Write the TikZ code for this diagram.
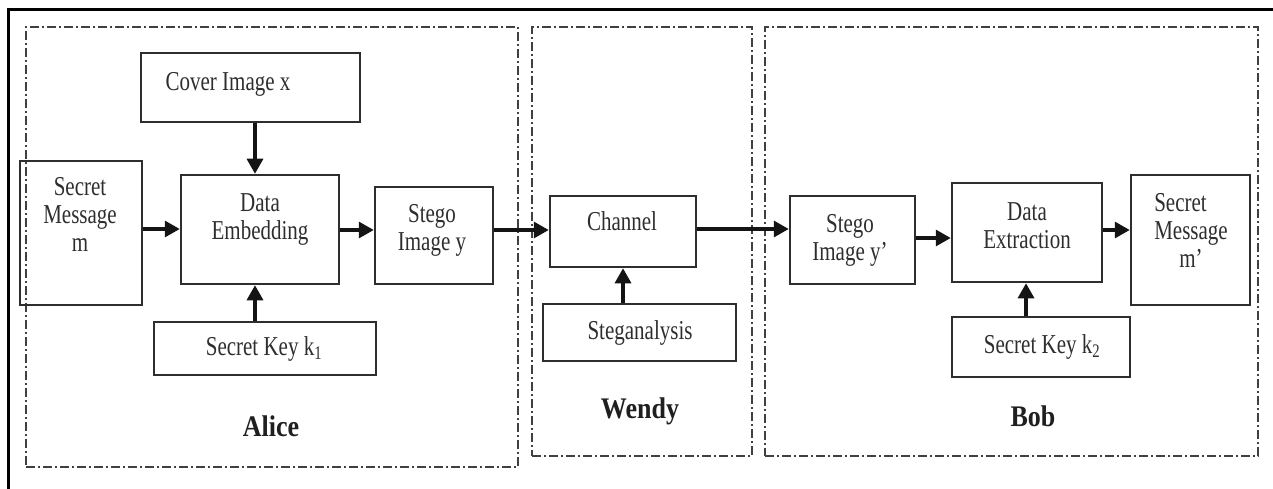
\documentclass[tikz,border=0pt]{standalone}
\usepackage{fontspec}
\usepackage{graphicx}
\setmainfont{Liberation Serif}
\usetikzlibrary{arrows.meta}
\newcommand\stx[2][c]{\scalebox{1}[1.3]{\begin{tabular}{@{}#1@{}}#2\end{tabular}}}
\newcommand\blab[1]{\scalebox{1}[1.15]{#1}}
\begin{document}
\begin{tikzpicture}[x=1pt,y=-1pt,
 box/.style={draw=black!82, line width=2.5pt, inner sep=0pt},
 txt/.style={font=\fontsize{21}{21.6}\selectfont, text=black!82, inner sep=0pt},
 lbl/.style={font=\fontsize{26}{28}\selectfont\bfseries, text=black!88, inner sep=0pt},
 grp/.style={draw=black!75, line width=1.6pt, dash pattern=on 9pt off 3pt on 2pt off 3pt, inner sep=0pt},
 arr/.style={line width=3.2pt, draw=black!92, -{Triangle[length=15pt,width=16pt]}}]
\useasboundingbox (0,0) rectangle (1273,489);
% outer frame (top and left)
\draw[line width=3pt] (8,489) -- (8,10) -- (1273,10);
% groups
\node[grp, minimum width=492pt, minimum height=440pt] (alice) at (272,247) {};
\node[grp, minimum width=220pt, minimum height=429pt] (wendy) at (642,241.5) {};
\node[grp, minimum width=493pt, minimum height=429pt] (bob) at (1011.5,241.5) {};
% boxes
\node[box, minimum width=219pt, minimum height=69pt] (cover) at (250.5,87.5) {};
\node[box, minimum width=122pt, minimum height=144pt] (sm) at (81,233) {};
\node[box, minimum width=158pt, minimum height=109pt] (de) at (260,229.5) {};
\node[box, minimum width=118pt, minimum height=97pt] (sy) at (434,235.5) {};
\node[box, minimum width=222pt, minimum height=53pt] (k1) at (265,348.5) {};
\node[box, minimum width=146pt, minimum height=71pt] (ch) at (623,231.5) {};
\node[box, minimum width=193pt, minimum height=57pt] (sa) at (639.5,332.5) {};
\node[box, minimum width=125pt, minimum height=88pt] (sy2) at (852.5,240) {};
\node[box, minimum width=150pt, minimum height=99pt] (dx) at (1027,232.5) {};
\node[box, minimum width=119pt, minimum height=130pt] (sm2) at (1190.5,240) {};
\node[box, minimum width=178pt, minimum height=60pt] (k2) at (1041,347) {};
% texts
\node[txt] (tcover) at (228,85) {\stx{Cover Image x}};
\node[txt] (tsm) at (80,218) {\stx{Secret\\Message\\m}};
\node[txt] (tde) at (260,220) {\stx{Data\\Embedding}};
\node[txt] (tsy) at (432,231) {\stx{Stego\\Image y}};
\node[txt] (tk1) at (264,350) {\stx{Secret Key k\textsubscript{1}}};
\node[txt] (tch) at (622,225) {\stx{Channel}};
\node[txt] (tsa) at (640,334) {\stx{Steganalysis}};
\node[txt] (tsy2) at (850,241) {\stx{Stego\\Image y'}};
\node[txt] (tdx) at (1027,229) {\stx{Data\\Extraction}};
\node[txt] (tsm2) at (1191,234) {\stx[l]{Secret\\Message\\\hspace*{25pt}m'}};
\node[txt] (tk2) at (1042,348) {\stx{Secret Key k\textsubscript{2}}};
% labels
\node[lbl] (lalice) at (271,426) {\blab{Alice}};
\node[lbl] (lwendy) at (640,411) {\blab{Wendy}};
\node[lbl] (lbob) at (1033,416) {\blab{Bob}};
% arrows
\draw[arr] ([xshift=4.5pt]cover.south) -- ([xshift=-5pt]de.north);
\draw[arr] ([yshift=4pt]sm.east) -- ([yshift=0.5pt]de.west);
\draw[arr] ([yshift=-0.5pt]de.east) -- ([yshift=5.5pt]sy.west);
\draw[arr] ([xshift=-10pt]k1.north) -- ([xshift=-5pt]de.south);
\draw[arr] ([yshift=5.5pt]sy.east) -- ([yshift=1.5pt]ch.west);
\draw[arr] ([xshift=-16.5pt]sa.north) -- (ch.south);
\draw[arr] ([yshift=2.5pt]ch.east) -- ([yshift=11pt]sy2.west);
\draw[arr] ([yshift=2pt]sy2.east) -- ([yshift=-5.5pt]dx.west);
\draw[arr] ([yshift=2.5pt]dx.east) -- ([yshift=10pt]sm2.west);
\draw[arr] ([xshift=-15pt]k2.north) -- ([xshift=-1pt]dx.south);
\end{tikzpicture}
\end{document}
